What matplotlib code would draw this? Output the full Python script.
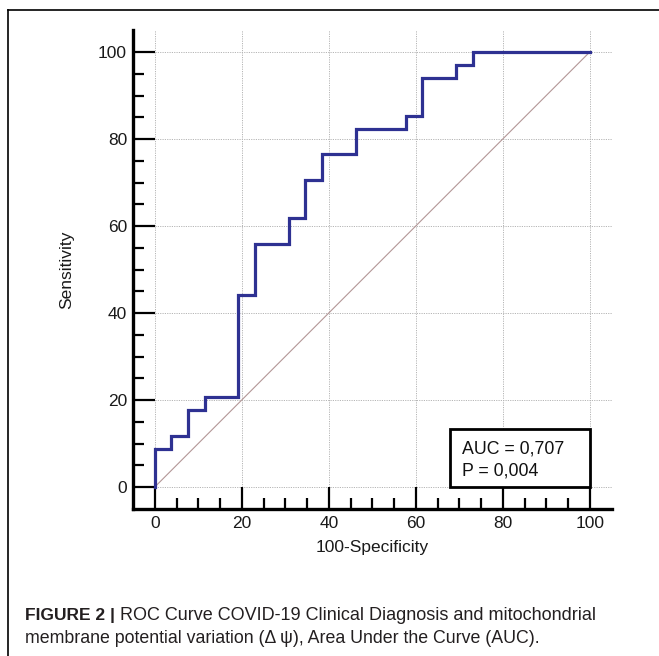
import matplotlib
matplotlib.use("Agg")
import matplotlib.pyplot as plt
from matplotlib.patches import Rectangle
from matplotlib.lines import Line2D
from matplotlib.ticker import FixedLocator

# ROC operating points (100-Specificity, Sensitivity), steps drawn vertical-first
fpr = [0, 3.85, 7.69, 11.54, 19.23, 23.08, 30.77, 34.62, 38.46, 46.15, 57.69, 61.54, 69.23, 73.08, 100]
tpr = [0, 8.82, 11.76, 17.65, 20.59, 44.12, 55.88, 61.76, 70.59, 76.47, 82.35, 85.29, 94.12, 97.06, 100]
ticks = [0, 20, 40, 60, 80, 100]
auc_line = "AUC = 0,707"
p_line = "P = 0,004"
xlabel = "100-Specificity"
ylabel = "Sensitivity"
cap_bold = "FIGURE 2 |"
cap_line1 = " ROC Curve COVID-19 Clinical Diagnosis and mitochondrial"
cap_line2 = "membrane potential variation (Δ ψ), Area Under the Curve (AUC)."

plt.rcParams['font.family'] = ['Liberation Sans', 'DejaVu Sans']

W, H = 659, 656
fig = plt.figure(figsize=(W / 100, H / 100), dpi=100)
ax = fig.add_axes([133 / W, (H - 508.75) / H, 478.5 / W, 478.5 / H])
ax.set_xlim(-5, 105)
ax.set_ylim(-5, 105)

for s in ['top', 'right']:
    ax.spines[s].set_visible(False)
for s in ['left', 'bottom']:
    ax.spines[s].set_linewidth(2.4)
    ax.spines[s].set_color('black')

ax.set_xticks(ticks)
ax.set_yticks(ticks)
minor = [v for v in range(5, 100, 5) if v % 20]
ax.xaxis.set_minor_locator(FixedLocator(minor))
ax.yaxis.set_minor_locator(FixedLocator(minor))
ax.tick_params(which='major', direction='in', length=15.5, width=1.6, color='black',
               labelsize=12.5, labelcolor='#1a1a1a')
ax.tick_params(which='minor', direction='in', length=7.8, width=1.6, color='black')
ax.tick_params(axis='x', which='major', pad=5.5)
ax.tick_params(axis='y', which='major', pad=4.3)

# grid
for t in ticks:
    ax.plot([t, t], [0, 105], color='#b5b5b5', lw=0.7, ls=(0, (1.2, 1.2)), zorder=1)
    ax.plot([0, 105], [t, t], color='#b5b5b5', lw=0.7, ls=(0, (1.2, 1.2)), zorder=1)

# diagonal reference
ax.plot([0, 100], [0, 100], color='#b39696', lw=0.8, zorder=2)

# ROC curve
ax.plot(fpr, tpr, drawstyle='steps-pre', color='#2e3192', lw=2.3,
        solid_joinstyle='miter', zorder=3)

# AUC box
ax.add_patch(Rectangle((67.8, 0), 32.2, 13.3, facecolor='white', edgecolor='black',
                       lw=2.0, zorder=4))
ax.text(70.6, 7.8, auc_line, fontsize=12.8, va='baseline', ha='left', color='#111111', zorder=5)
ax.text(70.6, 2.75, p_line, fontsize=12.8, va='baseline', ha='left', color='#111111', zorder=5)

ax.set_xlabel(xlabel, fontsize=12.5, color='#1a1a1a', labelpad=6)
ax.set_ylabel(ylabel, fontsize=12.5, color='#1a1a1a', labelpad=17)

# frame lines
fig.add_artist(Line2D([8 / W, 1], [1 - 10 / H, 1 - 10 / H], color='black', lw=1.2,
                      transform=fig.transFigure))
fig.add_artist(Line2D([8 / W, 8 / W], [0, 1 - 10 / H], color='black', lw=1.2,
                      transform=fig.transFigure))

# caption
capfam = ['Liberation Sans', 'DejaVu Sans']
fig.canvas.draw()
r = fig.canvas.get_renderer()
y1 = 1 - 620 / H
y2 = 1 - 643 / H
tb = fig.text(25 / W, y1, cap_bold, fontsize=12.5, fontweight='bold', family=capfam,
              va='baseline', ha='left', color='#231f20')
bb = tb.get_window_extent(renderer=r)
fig.text(bb.x1 / W, y1, cap_line1, fontsize=13.0, family=capfam,
         va='baseline', ha='left', color='#231f20')
fig.text(25 / W, y2, cap_line2, fontsize=12.8, family=capfam,
         va='baseline', ha='left', color='#231f20')

fig.savefig('out.png', dpi=100)
